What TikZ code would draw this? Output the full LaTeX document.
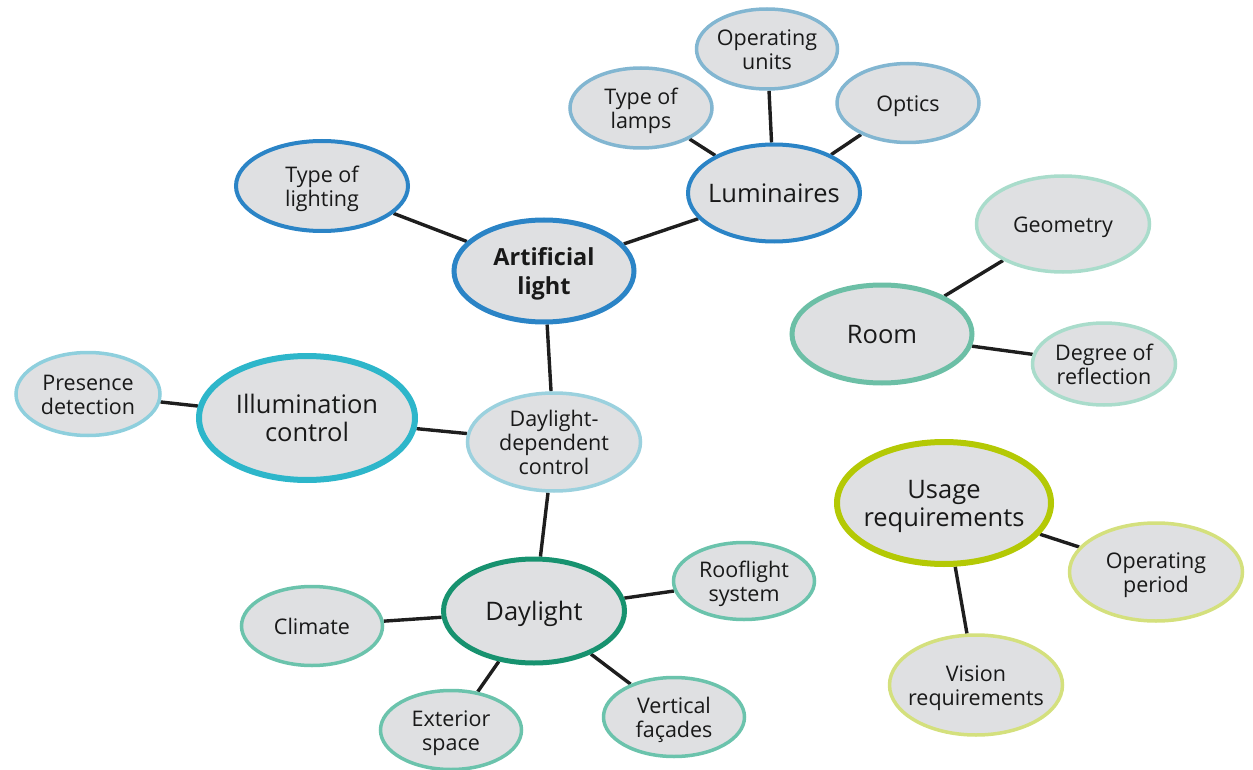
\documentclass[tikz,border=0pt]{standalone}
\usepackage{fontspec}
\setmainfont{Open Sans}
\usetikzlibrary{shapes.geometric,backgrounds}
\definecolor{cfill}{HTML}{DFE0E2}
\definecolor{cline}{HTML}{1E1E1E}
\definecolor{cblue}{HTML}{2B84C6}
\definecolor{clblue}{HTML}{82B6D1}
\definecolor{croom}{HTML}{6CBFA6}
\definecolor{clroom}{HTML}{A9DCCB}
\definecolor{cillum}{HTML}{2DB6CA}
\definecolor{clillum}{HTML}{8ECFDD}
\definecolor{cddc}{HTML}{9BD1DE}
\definecolor{cday}{HTML}{17926F}
\definecolor{clday}{HTML}{6BC3AC}
\definecolor{cuse}{HTML}{B4C905}
\definecolor{cluse}{HTML}{D4E07D}
\newcommand{\ctext}[1]{\makebox[0pt]{\raisebox{\dimexpr-0.25em-3.5pt\relax}[0pt][0pt]{\begin{tabular}{@{}c@{}}#1\end{tabular}}}}
\tikzset{
  bub/.style={ellipse, fill=cfill, inner sep=0pt, text=black!90},
  big/.style={bub, line width=5pt, font=\fontsize{25.5}{28}\selectfont},
  small/.style={bub, line width=3.5pt, font=\fontsize{21.5}{24}\selectfont},
  link/.style={draw=cline, line width=3.4pt},
  sz/.style 2 args={minimum width=#1pt, minimum height=#2pt}
}
\begin{document}
\begin{tikzpicture}[x=1pt,y=-1pt]
\useasboundingbox (0,0) rectangle (1253,770);
% central
\node[big, draw=cblue, sz={180}{102}, font=\fontsize{23.5}{29}\selectfont\bfseries] (art) at (544,271) {\ctext{Artificial\\light}};
\node[small, draw=cblue, line width=4pt, sz={172}{90}] (tol) at (322,186) {\ctext{Type of\\lighting}};
\node[big, draw=cblue, line width=4pt, sz={172}{97}] (lum) at (774,193) {\ctext{Luminaires}};
\node[small, draw=clblue, sz={142}{80}] (tla) at (641,108) {\ctext{Type of\\lamps}};
\node[small, draw=clblue, sz={141}{80}] (opu) at (767,49) {\ctext{Operating\\units}};
\node[small, draw=clblue, sz={142}{79}] (opt) at (908,103) {\ctext{Optics}};
% room
\node[big, draw=croom, sz={180}{98}] (room) at (882,334) {\ctext{Room}};
\node[small, draw=clroom, sz={173}{96}] (geo) at (1063,224) {\ctext{Geometry}};
\node[small, draw=clroom, sz={143}{82}] (dor) at (1104,364) {\ctext{Degree of\\reflection}};
% illumination
\node[small, draw=clillum, sz={144}{83}] (pre) at (88,394) {\ctext{Presence\\detection}};
\node[big, draw=cillum, line width=6pt, sz={216}{124}] (ill) at (307,418) {\ctext{Illumination\\control}};
\node[small, draw=cddc, sz={173}{98}] (ddc) at (554,442) {\ctext{Daylight-\\dependent\\control}};
% daylight
\node[big, draw=cday, sz={181}{104}] (day) at (534,611) {\ctext{Daylight}};
\node[small, draw=clday, sz={141}{79}] (cli) at (312,626) {\ctext{Climate}};
\node[small, draw=clday, sz={141}{77}] (roo) at (744,581) {\ctext{Rooflight\\system}};
\node[small, draw=clday, sz={141}{79}] (ext) at (451,730) {\ctext{Exterior\\space}};
\node[small, draw=clday, sz={141}{79}] (ver) at (674,717) {\ctext{Vertical\\façades}};
% usage
\node[big, draw=cuse, line width=6pt, sz={214}{122}] (use) at (944,503) {\ctext{Usage\\requirements}};
\node[small, draw=cluse, sz={173}{98}] (opp) at (1156,572) {\ctext{Operating\\period}};
\node[small, draw=cluse, sz={173}{100}] (vis) at (976,685) {\ctext{Vision\\requirements}};
\begin{scope}[on background layer]
\draw[link] (art) -- (tol);
\draw[link] (art) -- (lum);
\draw[link] (art) -- (ddc);
\draw[link] (lum) -- (tla);
\draw[link] (lum) -- (opu);
\draw[link] (lum) -- (opt);
\draw[link] (room) -- (geo);
\draw[link] (room) -- (dor);
\draw[link] (ill) -- (pre);
\draw[link] (ill) -- (ddc);
\draw[link] (ddc) -- (day);
\draw[link] (day) -- (cli);
\draw[link] (day) -- (roo);
\draw[link] (day) -- (ext);
\draw[link] (day) -- (ver);
\draw[link] (use) -- (opp);
\draw[link] (use) -- (vis);
\end{scope}
\end{tikzpicture}
\end{document}
